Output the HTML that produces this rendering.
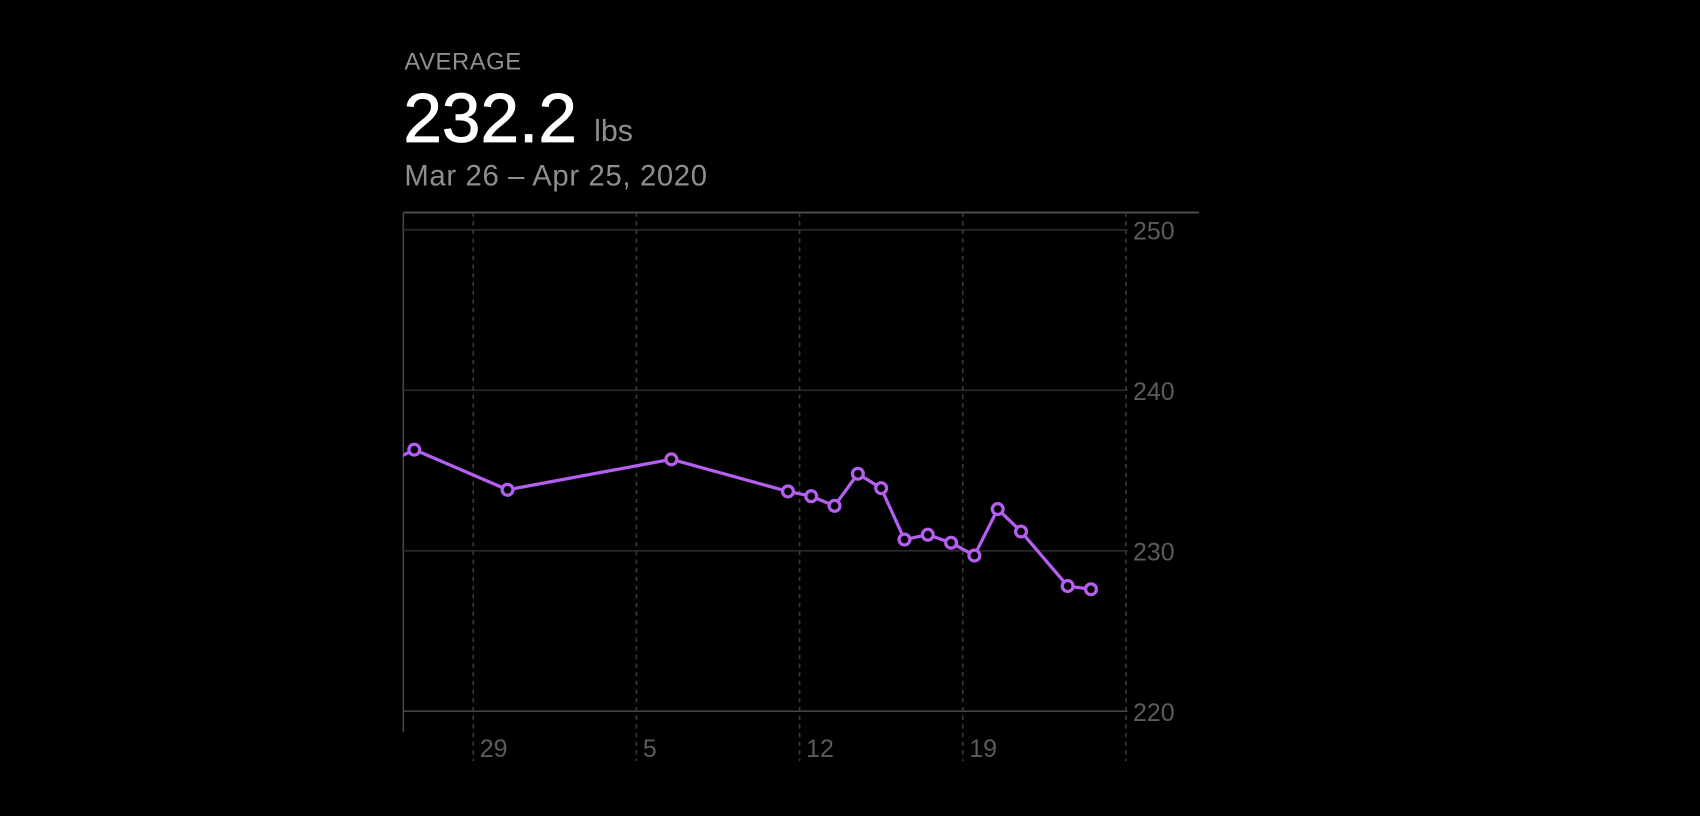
<!DOCTYPE html>
<html><head><meta charset="utf-8"><style>
html,body{margin:0;padding:0;background:#000;width:1700px;height:816px;overflow:hidden}
svg{display:block}
text{font-family:"Liberation Sans",sans-serif}
</style></head><body>
<svg id="chart" width="1700" height="816" viewBox="0 0 1568 752.64">
<rect width="1568" height="752.64" fill="#000"/>
<text x="373" y="64" font-size="22" letter-spacing="0.5" fill="#8e8e93">AVERAGE</text>
<text x="372" y="131" font-size="64" fill="#fff" stroke="#fff" stroke-width="0.8">232.2</text>
<text x="548" y="130" font-size="28" fill="#8e8e93">lbs</text>
<text x="373" y="171" font-size="27" letter-spacing="0.6" fill="#8e8e93">Mar 26 – Apr 25, 2020</text>
<g id="grid"></g>
<defs><clipPath id="plotclip"><rect x="372" y="196" width="668" height="480"/></clipPath></defs>
<g id="series" clip-path="url(#plotclip)"></g>
</svg>
<script>
const days=[-0.5,0.47,4.47,11.5,16.5,17.5,18.5,19.5,20.5,21.5,22.5,23.5,24.5,25.5,26.5,28.5,29.5];
const weights=[235.6,236.3,233.8,235.7,233.7,233.4,232.8,234.8,233.9,230.7,231.0,230.5,229.7,232.6,231.2,227.8,227.6];
const yTicks=[220,230,240,250];
const xTickDays=[3,10,17,24,31];
const xTickLabels=["29","5","12","19",""];
const NS="http://www.w3.org/2000/svg";
const X=d=>372+21.5*d;
const Y=v=>212+(250-v)*14.8;
function mk(tag,attrs,parent){const e=document.createElementNS(NS,tag);for(const k in attrs)e.setAttribute(k,attrs[k]);parent.appendChild(e);return e;}
const grid=document.getElementById('grid');
let l=mk('line',{x1:372,y1:196,x2:1106,y2:196,stroke:'#555','stroke-width':1.5},grid);


l=mk('line',{x1:372,y1:196,x2:372,y2:675,stroke:'#444','stroke-width':1.5},grid);


yTicks.forEach(v=>{
 const g=mk('line',{x1:372,y1:Y(v),x2:1040,y2:Y(v),stroke:v===220?'#444':'#2a2a2a','stroke-width':1.5},grid);
 
 
 const t=mk('text',{x:1045,y:Y(v)+9,'font-size':23,fill:'#5c5c60'},grid);
 t.textContent=v;
 
 
});
xTickDays.forEach((d,i)=>{
 const g=mk('line',{x1:X(d),y1:196,x2:X(d),y2:702,stroke:'#3a3a3a','stroke-width':1.5,'stroke-dasharray':'4 4'},grid);
 
 
 if(xTickLabels[i]){
  const t=mk('text',{x:X(d)+6,y:698,'font-size':23,fill:'#5c5c60'},grid);
  t.textContent=xTickLabels[i];
  
  
 }
});
const s=document.getElementById('series');
const p=mk('polyline',{points:days.map((d,i)=>X(d)+','+Y(weights[i])).join(' '),fill:'none',stroke:'#b45ff0','stroke-width':3,'stroke-linejoin':'round'},s);


days.forEach((d,i)=>{
 if(d<0)return;
 const c=mk('circle',{cx:X(d),cy:Y(weights[i]),r:5,fill:'#000',stroke:'#b45ff0','stroke-width':3},s);
 
 
});
</script>
</body></html>
